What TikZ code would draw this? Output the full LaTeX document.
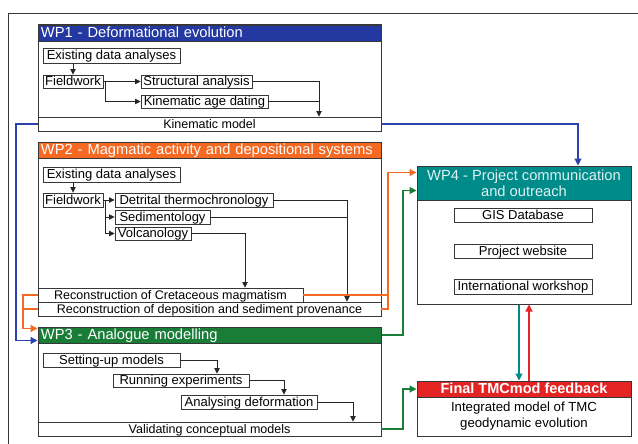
\documentclass[tikz,border=0pt]{standalone}
\usepackage{fontspec}
\setmainfont{Liberation Sans}
\usetikzlibrary{arrows.meta,calc}
\definecolor{wpblue}{RGB}{35,56,160}
\definecolor{lnblue}{RGB}{45,65,170}
\definecolor{wporange}{RGB}{245,105,35}
\definecolor{wpgreen}{RGB}{25,125,55}
\definecolor{wpteal}{RGB}{0,139,139}
\definecolor{wpred}{RGB}{228,35,35}
\definecolor{frame}{RGB}{55,55,55}
\begin{document}
\begin{tikzpicture}[x=1pt,y=-1pt,
  wpbox/.style={draw=frame,line width=1pt,fill=white,inner sep=0pt},
  wphead/.style={draw=frame,line width=1pt,inner sep=0pt,text=white,font=\fontsize{14.7}{16}\selectfont,text height=11pt,text depth=3pt,minimum height=16pt,text width=337pt,align=left,minimum width=343pt},
  ibox/.style={draw=frame,line width=0.9pt,fill=white,inner sep=0pt,font=\fontsize{13}{14}\selectfont,text height=10.6pt,text depth=2.3pt},
  bar/.style={ibox,font=\fontsize{12.5}{14}\selectfont},
  arr/.style={draw=black!85,line width=0.75pt,-{Triangle[length=5.5pt,width=5.5pt]}},
  ln/.style={draw=black!85,line width=0.75pt},
  carr/.style={line width=1.2pt,-{Triangle[length=7pt,width=7pt]}},
  cln/.style={line width=1.2pt}]
\useasboundingbox (0,0) rectangle (638,444);
\fill[white] (0,0) rectangle (638,444);
\draw[frame,line width=0.8pt] (8,444) -- (8,13) -- (638,13);

% ---------- WP1
\node[wpbox,minimum width=343pt,minimum height=106pt] (wp1) at (209.5,78) {};
\node[wphead,fill=wpblue] (wp1h) at (209.5,33.5) {WP1 - Deformational evolution};
\node[ibox,minimum width=137pt,minimum height=15pt] (ex1) at (111.5,55.5) {Existing data analyses};
\node[ibox,minimum width=60pt,minimum height=13pt] (fw1) at (73,81.5) {Fieldwork};
\node[ibox,minimum width=111pt,minimum height=13pt] (sa1) at (196.5,81.5) {Structural analysis};
\node[ibox,minimum width=127pt,minimum height=13pt] (ka1) at (204.5,101.5) {Kinematic age dating};
\node[bar,minimum width=343pt,minimum height=14pt] (km1) at (209.5,124) {Kinematic model};
\coordinate (j1) at (319,101.5);
\draw[arr] (ex1.south -| fw1.north) -- (fw1.north);
\draw[arr] (fw1.east) -- (sa1.west);
\draw[arr] ($(fw1.east)+(2,0)$) |- (ka1.west);
\draw[arr] (sa1.east) -| (j1 |- km1.north);
\draw[ln] (ka1.east) -- (j1);

% ---------- WP2
\node[wpbox,minimum width=343pt,minimum height=174pt] (wp2) at (209.5,229) {};
\node[wphead,fill=wporange] (wp2h) at (209.5,150) {WP2 - Magmatic activity and depositional systems};
\node[ibox,minimum width=137pt,minimum height=15pt] (ex2) at (111.5,174.5) {Existing data analyses};
\node[ibox,minimum width=60pt,minimum height=14pt] (fw2) at (73,200) {Fieldwork};
\node[ibox,minimum width=158pt,minimum height=14pt] (dt2) at (194,200) {Detrital thermochronology};
\node[ibox,minimum width=95pt,minimum height=14pt] (se2) at (162.5,217) {Sedimentology};
\node[ibox,minimum width=76pt,minimum height=13pt] (vo2) at (153,233.5) {Volcanology};
\node[bar,minimum width=265pt,minimum height=14pt] (rc2) at (170.5,295) {Reconstruction of Cretaceous magmatism};
\node[bar,minimum width=343pt,minimum height=14pt] (rd2) at (209.5,309) {Reconstruction of deposition and sediment provenance};
\coordinate (j2) at (347,217);
\coordinate (j3) at (245,233.5);
\draw[arr] (ex2.south -| fw2.north) -- (fw2.north);
\draw[arr] (fw2.east) -- (dt2.west);
\draw[arr] ($(fw2.east)+(2,0)$) |- (se2.west);
\draw[arr] ($(fw2.east)+(2,0)$) |- (vo2.west);
\draw[arr] (dt2.east) -| (j2 |- rd2.north);
\draw[ln] (se2.east) -- (j2);
\draw[arr] (vo2.east) -| (j3 |- rc2.north);

% ---------- WP3
\node[wpbox,minimum width=343pt,minimum height=109pt] (wp3) at (209.5,381.5) {};
\node[wphead,fill=wpgreen] (wp3h) at (209.5,335) {WP3 - Analogue modelling};
\node[ibox,minimum width=137pt,minimum height=14pt] (su3) at (111.5,360) {Setting-up models};
\node[ibox,minimum width=136pt,minimum height=13pt] (re3) at (181,380.5) {Running experiments};
\node[ibox,minimum width=136pt,minimum height=14pt] (ad3) at (249,402) {Analysing deformation};
\node[bar,minimum width=343pt,minimum height=14pt] (vc3) at (209.5,429) {Validating conceptual models};
\coordinate (k1) at (217,360);
\coordinate (k2) at (284,380);
\coordinate (k3) at (353,402);
\draw[arr] (su3.east) -| (k1 |- re3.north);
\draw[arr] (re3.east) -| (k2 |- ad3.north);
\draw[arr] (ad3.east) -| (k3 |- vc3.north);

% ---------- WP4
\node[wpbox,minimum width=214pt,minimum height=138pt] (wp4) at (524,235) {};
\node[draw=frame,line width=1pt,fill=wpteal,minimum width=214pt,minimum height=34pt,inner sep=0pt,align=center,text=white!88!wpteal,font=\fontsize{14.7}{16}\selectfont] (wp4h) at (524,183) {WP4 - Project communication\\and outreach};
\node[ibox,minimum width=138pt,minimum height=14pt] (gis) at (523,215) {GIS Database};
\node[ibox,minimum width=138pt,minimum height=14pt] (pw) at (523,251) {Project website};
\node[ibox,minimum width=138pt,minimum height=15pt] (iw) at (523,286.5) {International workshop};

% ---------- Final
\node[wpbox,minimum width=214pt,minimum height=55pt] (fin) at (524,408.5) {};
\node[draw=frame,line width=1pt,fill=wpred,minimum width=214pt,minimum height=16pt,inner sep=0pt,text=white,font=\bfseries\fontsize{14.5}{16}\selectfont,text height=11pt,text depth=3pt] (finh) at (524,389) {Final TMCmod feedback};
\node[align=center,inner sep=0pt,font=\fontsize{13.2}{16}\selectfont] (fint) at (524,416.5) {Integrated model of TMC\\geodynamic evolution};

% ---------- coloured connectors
\coordinate (b1) at (16,124);
\coordinate (b2) at (578,124);
\draw[carr,lnblue] (km1.west) -- (b1) |- ($(wp3h.north west)+(0,14)$);
\draw[carr,lnblue] (km1.east) -- (b2) -- (b2 |- wp4.north);
\coordinate (o1) at (23,295);
\coordinate (o2) at (388,295);
\draw[cln,wporange] (rd2.west) -- (rd2.west -| o1);
\draw[carr,wporange] (rc2.west) -- (o1) |- ($(wp3h.north west)+(0,2)$);
\draw[cln,wporange] (rd2.east) -- (rd2.east -| o2) -- (o2);
\draw[carr,wporange] (rc2.east) -- (o2) |- ($(wp4h.north west)+(0,7)$);
\coordinate (g1) at (403,335);
\draw[carr,wpgreen] (wp3h.east) -- (g1) |- ($(wp4h.north west)+(0,25)$);
\draw[carr,wpgreen] (vc3.east) -| (g1 |- finh.west) -- (finh.west);
\draw[carr,wpteal] ($(wp4.south)+(-5,0)$) -- ($(finh.north)+(-5,0)$);
\draw[carr,wpred] ($(finh.north)+(5,0)$) -- ($(wp4.south)+(5,0)$);
\end{tikzpicture}
\end{document}
